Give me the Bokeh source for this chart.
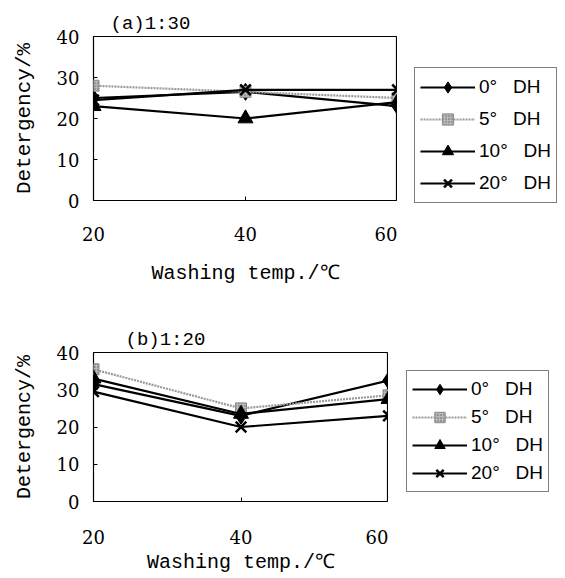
from bokeh.plotting import figure
from bokeh.layouts import column, row
from bokeh.models import Legend, LegendItem, Title, FixedTicker
from bokeh.embed import file_html
from bokeh.resources import INLINE

temps = [20, 40, 60]
series_names = ["0°   DH", "5°   DH", "10°   DH", "20°   DH"]
yticks = [0, 10, 20, 30, 40]
xticks = [20, 40, 60]

# (a) 1:30
a_dh0 = [25.0, 26.5, 23.0]
a_dh5 = [28.0, 26.5, 25.0]
a_dh10 = [23.0, 20.0, 24.0]
a_dh20 = [24.5, 27.0, 27.0]

# (b) 1:20
b_dh0 = [31.5, 23.0, 32.5]
b_dh5 = [35.5, 25.0, 28.5]
b_dh10 = [33.0, 23.5, 27.5]
b_dh20 = [29.5, 20.0, 23.0]

SERIF = "DejaVu Serif"
MONO = "Liberation Mono"
SANS = "Liberation Sans"


def draw_series(p, data):
    d0, d5, d10, d20 = data
    items = []
    l0 = p.line(temps, d0, line_color="black", line_width=2.2)
    m0 = p.scatter(temps, d0, marker="diamond", size=17, fill_color="black", line_color="black")
    items.append(LegendItem(label=series_names[0], renderers=[l0, m0]))
    l5 = p.line(temps, d5, line_color="#9a9a9a", line_width=2.2, line_dash="2 1")
    m5 = p.scatter(temps, d5, marker="square", size=11, fill_color="#b8b8b8",
                   line_color="#8a8a8a", hatch_pattern="dot", hatch_color="#666666",
                   hatch_scale=3)
    items.append(LegendItem(label=series_names[1], renderers=[l5, m5]))
    l10 = p.line(temps, d10, line_color="black", line_width=2.2)
    m10 = p.scatter(temps, d10, marker="triangle", size=15, fill_color="black", line_color="black")
    items.append(LegendItem(label=series_names[2], renderers=[l10, m10]))
    l20 = p.line(temps, d20, line_color="black", line_width=2.2)
    m20 = p.scatter(temps, d20, marker="x", size=15, line_color="black", line_width=2.5)
    items.append(LegendItem(label=series_names[3], renderers=[l20, m20]))
    return items


def make_panel(title, data, fw, fh, top, bottom, ylab_size,
               xstandoff, xtitle_standoff, title_offset):
    p = figure(frame_width=fw, frame_height=fh, x_range=(20, 60), y_range=(0, 40),
               output_backend="svg", toolbar_location=None,
               min_border_left=93, min_border_right=0,
               min_border_top=top, min_border_bottom=bottom)
    p.title = Title(text=title, align="left", offset=title_offset,
                    text_font=MONO, text_font_size="19px",
                    text_font_style="normal", text_color="black", standoff=4)
    p.xgrid.visible = False
    p.ygrid.visible = False
    p.outline_line_color = "black"
    p.outline_line_width = 1.2
    p.background_fill_color = "white"
    p.border_fill_color = "white"

    for ax in (p.xaxis[0], p.yaxis[0]):
        ax.axis_line_color = None
        ax.major_tick_in = 4
        ax.major_tick_out = 0
        ax.minor_tick_line_color = None
        ax.major_tick_line_color = "black"
        ax.major_label_text_font = SERIF
        ax.major_label_text_font_size = "18px"
        ax.major_label_text_color = "black"
        ax.axis_label_text_font = MONO
        ax.axis_label_text_font_style = "normal"
        ax.axis_label_text_color = "black"

    p.xaxis.ticker = FixedTicker(ticks=xticks)
    p.yaxis.ticker = FixedTicker(ticks=yticks)
    p.xaxis.axis_label = "Washing temp./℃"
    p.xaxis.axis_label_text_font_size = "20px"
    p.xaxis.major_label_standoff = xstandoff
    p.xaxis.axis_label_standoff = xtitle_standoff
    p.yaxis.axis_label = "Detergency/%"
    p.yaxis.axis_label_text_font_size = ylab_size
    p.yaxis.major_label_standoff = 14
    p.yaxis.axis_label_standoff = 18

    draw_series(p, data)
    return p


def make_legend_fig(data, w, h, loc, gh, spacing):
    q = figure(width=w, height=h, x_range=(1000, 1001), y_range=(1000, 1001),
               output_backend="svg", toolbar_location=None,
               x_axis_location=None, y_axis_location=None,
               min_border_left=0, min_border_right=0,
               min_border_top=0, min_border_bottom=0)
    q.frame_align = False
    q.xgrid.visible = False
    q.ygrid.visible = False
    q.outline_line_color = None
    q.background_fill_color = "white"
    q.border_fill_color = "white"
    items = draw_series(q, data)
    leg = Legend(items=items, location=loc, margin=0, padding=5,
                 spacing=spacing, glyph_width=55, glyph_height=gh,
                 label_height=gh, label_standoff=4,
                 label_text_font=SANS, label_text_font_size="19px",
                 label_text_color="black",
                 border_line_color="black", border_line_width=1,
                 background_fill_color="white", background_fill_alpha=1)
    q.add_layout(leg)
    return q


data_a = (a_dh0, a_dh5, a_dh10, a_dh20)
data_b = (b_dh0, b_dh5, b_dh10, b_dh20)

pa = make_panel("(a)1:30", data_a, 304, 164, 36, 90, "21px", 26, 18, 17)
la = make_legend_fig(data_a, 565 - 93 - 304, 290, (17, 87), 28, 4)
pb = make_panel("(b)1:20", data_b, 295, 149, 62, 77, "20px", 28, 4, 32)
lb = make_legend_fig(data_b, 565 - 93 - 295, 288, (18, 86), 26, 2)

layout = column(row(pa, la, spacing=0), row(pb, lb, spacing=0), spacing=0)
open("out.html", "w").write(file_html(layout, INLINE))
